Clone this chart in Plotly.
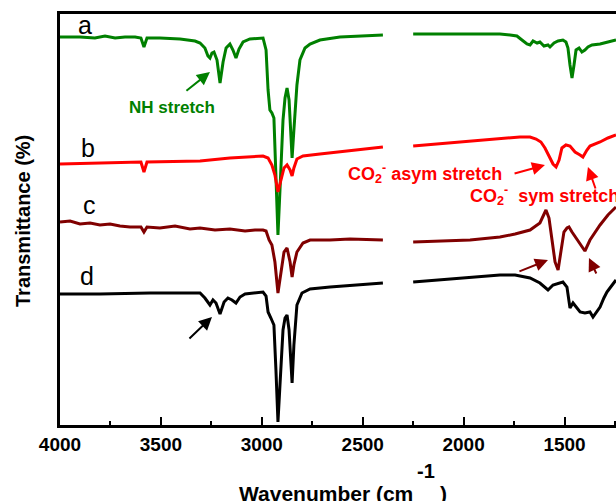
import plotly.graph_objects as go

# ---- data (wavenumber cm^-1, transmittance in arbitrary offset units) ----
a_wn_left = [4000, 3901, 3827, 3777, 3727, 3678, 3628, 3599, 3584, 3569, 3505, 3405, 3331, 3306, 3282, 3267, 3257, 3247, 3237, 3222, 3207, 3192, 3177, 3158, 3143, 3128, 3113, 3093, 3059, 2994, 2979, 2969, 2960, 2950, 2940, 2930, 2920, 2910, 2895, 2885, 2875, 2865, 2855, 2850, 2841, 2826, 2811, 2786, 2761, 2712, 2613, 2400]
a_t_left = [388, 388, 387, 389, 387, 388, 388, 387, 378, 387, 387, 386, 384, 382, 377, 369, 367, 372, 373, 365, 342, 363, 377, 381, 375, 367, 376, 383, 386, 387, 375, 335, 315, 312, 307, 245, 190, 235, 305, 327, 337, 325, 285, 267, 295, 340, 365, 377, 381, 385, 388, 390]
a_wn_right = [2250, 2068, 1820, 1770, 1736, 1711, 1686, 1671, 1656, 1636, 1622, 1602, 1582, 1572, 1552, 1532, 1508, 1493, 1483, 1473, 1463, 1453, 1443, 1428, 1414, 1399, 1384, 1364, 1324, 1285, 1245]
a_t_right = [391, 391, 391, 390, 389, 385, 381, 380, 384, 382, 383, 379, 380, 378, 382, 384, 385, 383, 377, 360, 347, 360, 375, 377, 373, 375, 378, 380, 381, 383, 385]

b_wn_left = [4000, 3802, 3599, 3584, 3569, 3306, 3158, 2994, 2969, 2950, 2935, 2920, 2905, 2890, 2875, 2860, 2850, 2841, 2826, 2796, 2712, 2400]
b_t_left = [261, 262, 263, 253, 263, 264, 267, 269, 267, 260, 250, 233, 245, 257, 260, 255, 249, 257, 266, 269, 271, 278]
b_wn_right = [2250, 2018, 1820, 1721, 1671, 1641, 1617, 1597, 1577, 1557, 1542, 1527, 1513, 1493, 1473, 1448, 1423, 1409, 1389, 1374, 1324, 1285, 1245]
b_t_right = [279, 283, 287, 288, 288, 286, 283, 277, 269, 261, 258, 265, 277, 280, 279, 273, 270, 268, 275, 279, 283, 287, 290]

c_wn_left = [4000, 3950, 3901, 3851, 3802, 3752, 3703, 3653, 3599, 3584, 3569, 3505, 3430, 3356, 3306, 3232, 3158, 3083, 3034, 2994, 2979, 2964, 2950, 2935, 2920, 2905, 2890, 2875, 2860, 2850, 2841, 2826, 2796, 2761, 2662, 2563, 2400]
c_t_left = [203, 204, 201, 202, 200, 201, 199, 198, 198, 193, 198, 197, 199, 196, 197, 195, 196, 194, 195, 195, 194, 185, 180, 163, 132, 155, 173, 177, 163, 148, 160, 173, 182, 185, 185, 186, 185]
c_wn_right = [2250, 2117, 1968, 1820, 1745, 1671, 1622, 1592, 1577, 1562, 1547, 1532, 1518, 1503, 1488, 1478, 1463, 1443, 1423, 1399, 1374, 1349, 1324, 1285, 1245]
c_t_right = [183, 184, 185, 188, 191, 195, 202, 215, 207, 185, 163, 155, 175, 193, 197, 198, 193, 187, 181, 174, 185, 193, 200, 210, 218]

d_wn_left = [4000, 3802, 3554, 3306, 3282, 3257, 3242, 3227, 3207, 3187, 3168, 3148, 3128, 3108, 3083, 2994, 2979, 2969, 2955, 2940, 2930, 2920, 2910, 2895, 2885, 2875, 2865, 2855, 2850, 2841, 2826, 2801, 2761, 2662, 2400]
d_t_left = [131, 131, 132, 132, 127, 120, 125, 122, 111, 123, 127, 125, 122, 128, 131, 133, 129, 113, 107, 100, 55, 3, 40, 95, 107, 110, 95, 55, 42, 80, 120, 132, 136, 138, 142]
d_wn_right = [2250, 2018, 1820, 1745, 1671, 1622, 1597, 1582, 1557, 1508, 1488, 1473, 1458, 1438, 1423, 1399, 1374, 1359, 1344, 1324, 1305, 1290, 1275, 1265, 1245]
d_t_right = [143, 147, 150, 150, 147, 142, 137, 135, 140, 143, 138, 117, 122, 117, 113, 112, 113, 108, 112, 118, 127, 133, 137, 140, 145]

series = [
    ("a", a_wn_left, a_t_left, a_wn_right, a_t_right, "#008000"),
    ("b", b_wn_left, b_t_left, b_wn_right, b_t_right, "#ff0000"),
    ("c", c_wn_left, c_t_left, c_wn_right, c_t_right, "#800000"),
    ("d", d_wn_left, d_t_left, d_wn_right, d_t_right, "#000000"),
]
label_pos = {"a": (3876, 400), "b": (3861, 277), "c": (3856, 220), "d": (3866, 149)}

tick_vals = [4000, 3500, 3000, 2500, 2000, 1500]
tick_text = ["4000", "3500", "3000", "2500", "2000", "1500"]

FONT = "Liberation Sans, Arial, sans-serif"

fig = go.Figure()
for name, wl, tl, wr, tr, col in series:
    fig.add_trace(go.Scatter(
        x=wl + [None] + wr, y=tl + [None] + tr, mode="lines",
        line=dict(color=col, width=3), connectgaps=False,
        showlegend=False, hoverinfo="skip"))

annotations = []
for name, (lx, ly) in label_pos.items():
    annotations.append(dict(x=lx, y=ly, xref="x", yref="y", text=name, showarrow=False,
                            font=dict(family=FONT, size=25, color="black")))

def arrow(hx, hy, tx, ty, col):
    return dict(x=hx, y=hy, ax=tx, ay=ty, xref="x", yref="y", axref="x", ayref="y",
                text="", showarrow=True, arrowhead=2, arrowsize=1.3, arrowwidth=2,
                arrowcolor=col)

annotations += [
    dict(x=3445, y=318, xref="x", yref="y", text="NH stretch", showarrow=False,
         font=dict(family=FONT, size=17, color="#008000", weight="bold")),
    arrow(3257, 353, 3381, 333, "#008000"),
    dict(x=2191, y=252, xref="x", yref="y", text="CO<sub>2</sub><sup>-</sup> asym stretch",
         showarrow=False, font=dict(family=FONT, size=18, color="#ff0000", weight="bold")),
    arrow(1597, 260, 1755, 251, "#ff0000"),
    dict(x=1978, y=230, xref="x", yref="y", text="CO<sub>2</sub><sup>-</sup>  sym stretch",
         xanchor="left", showarrow=False,
         font=dict(family=FONT, size=18, color="#ff0000", weight="bold")),
    arrow(1384, 258, 1344, 235, "#ff0000"),
    arrow(1582, 165, 1731, 153, "#800000"),
    arrow(1379, 167, 1339, 150, "#800000"),
    arrow(3247, 108, 3366, 85, "#000000"),
    # axis titles
    dict(x=(415 - 60) / 556, y=(425 - 493) / 411, xref="paper", yref="paper",
         text="Wavenumber (cm", xanchor="right", yanchor="middle", showarrow=False,
         font=dict(family=FONT, size=21, color="black", weight="bold")),
    dict(x=(438 - 60) / 556, y=(425 - 493) / 411, xref="paper", yref="paper",
         text=")", xanchor="left", yanchor="middle", showarrow=False,
         font=dict(family=FONT, size=21, color="black", weight="bold")),
    dict(x=(426 - 60) / 556, y=(425 - 471) / 411, xref="paper", yref="paper",
         text="-1", xanchor="center", yanchor="middle", showarrow=False,
         font=dict(family=FONT, size=20, color="black", weight="bold")),
    dict(x=(23 - 60) / 556, y=(425 - 221) / 411, xref="paper", yref="paper",
         text="Transmittance (%)", textangle=-90, xanchor="center", yanchor="middle",
         showarrow=False, font=dict(family=FONT, size=20, color="black", weight="bold")),
]

fig.update_layout(
    width=616, height=501,
    margin=dict(l=60, r=0, t=14, b=76),
    paper_bgcolor="white", plot_bgcolor="white",
    annotations=annotations,
    xaxis=dict(range=[4000, 1245], showgrid=False, zeroline=False,
               showline=True, linecolor="black", linewidth=2.5, mirror=True,
               ticks="inside", ticklen=8, tickwidth=2, tickcolor="black",
               tickvals=tick_vals, ticktext=tick_text,
               tickfont=dict(family=FONT, size=19, color="black", weight="bold"),
               minor=dict(ticks="inside", ticklen=4, tickwidth=2, tickcolor="black",
                          dtick=250, tick0=0)),
    yaxis=dict(range=[0, 411], showgrid=False, zeroline=False, showline=True,
               linecolor="black", linewidth=2.5, showticklabels=False, ticks=""),
)

fig.write_html("out.html")
